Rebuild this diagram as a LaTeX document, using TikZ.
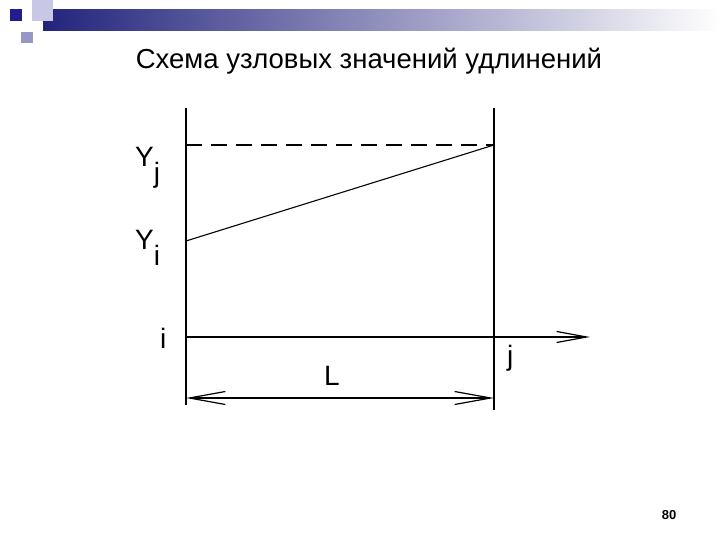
\documentclass[tikz,border=0pt]{standalone}
\usepackage{fontspec}
\setmainfont{Liberation Sans}
\usetikzlibrary{arrows.meta}
\definecolor{bandnavy}{RGB}{35,35,125}
\definecolor{sqlav}{RGB}{200,200,230}
\definecolor{sqdark}{RGB}{30,30,140}
\definecolor{sqmid}{RGB}{150,150,200}
\begin{document}
\begin{tikzpicture}[x=1pt,y=-1pt,
  thick line/.style={line width=1.8pt},
  thin line/.style={line width=1.1pt},
  lbl/.style={inner sep=0pt, anchor=north west, font=\fontsize{28}{30}\selectfont}]
\useasboundingbox (0,0) rectangle (720,540);
% top decoration
\shade[left color=bandnavy, right color=white] (43,10) rectangle (720,31);
\fill[sqlav] (32,0) rectangle (53,21);
\fill[sqdark] (10,9) rectangle (22,21);
\fill[sqmid] (21,32) rectangle (33,43);
% title
\node[inner sep=0pt, font=\fontsize{27.5}{30}\selectfont] (title) at (369,61) {Схема узловых значений удлинений};
% coordinates
\coordinate (LT) at (186,108);
\coordinate (LB) at (186,405);
\coordinate (RT) at (494,108);
\coordinate (RB) at (494,410);
\coordinate (Yj) at (494,145);
\coordinate (Yjl) at (186,145);
\coordinate (Yi) at (186,241);
\coordinate (Oi) at (186,337);
\coordinate (Ax) at (590,337);
\coordinate (DL) at (186,398);
\coordinate (DR) at (494,398);
\draw[thick line] (LT) -- (LB);
\draw[thick line] (RT) -- (RB);
\draw[thin line, dash pattern=on 16pt off 9pt] (Yjl) -- (Yj);
\draw[thin line] (Yi) -- (Yj);
\draw[thin line, -{Straight Barb[length=30pt,width=11pt,line width=1.2pt]}] (Oi) -- (Ax);
\draw[thin line, {Straight Barb[length=36pt,width=13pt,line width=1.2pt]}-{Straight Barb[length=36pt,width=13pt,line width=1.2pt]}] (DL) -- (DR);
% labels
\node[lbl] (lYj) at (135,147) {Y\raisebox{-16pt}{j}};
\node[lbl] (lYi) at (135,230) {Y\raisebox{-16pt}{i}};
\node[lbl] (li) at (160,328) {i};
\node[lbl] (lj) at (507,345) {j};
\node[lbl] (lL) at (324,366) {L};
\node[inner sep=0pt, font=\bfseries\fontsize{13}{15}\selectfont] (pg) at (669,515) {80};
\end{tikzpicture}
\end{document}
